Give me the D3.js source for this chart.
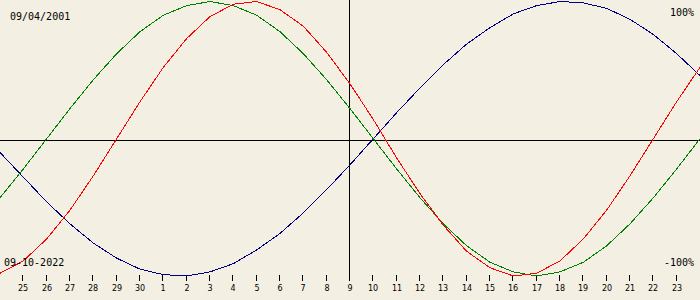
<!DOCTYPE html>
<html>
<head>
<meta charset="utf-8">
<script src="https://cdn.jsdelivr.net/npm/d3@7"></script>
<style>
html,body{margin:0;padding:0;background:#f3efe3;}
svg{display:block;}
</style>
</head>
<body>
<svg id="chart" width="700" height="300"></svg>
<script>
// Day labels, one per day from 24 Sep to 24 Oct 2022
const days = [24,25,26,27,28,29,30,1,2,3,4,5,6,7,8,9,10,11,12,13,14,15,16,17,18,19,20,21,22,23,24];
// Biorhythm values (fraction of 100%)
const physical = [-0.98,-0.89,-0.73,-0.52,-0.27,0,0.27,0.52,0.73,0.89,0.98,1.00,0.94,0.82,0.63,0.40,0.14,-0.14,-0.40,-0.63,-0.82,-0.94,-1.00,-0.98,-0.89,-0.73,-0.52,-0.27,0,0.27,0.52];
const emotional = [-0.43,-0.22,0,0.22,0.43,0.62,0.78,0.90,0.97,1.00,0.97,0.90,0.78,0.62,0.43,0.22,0,-0.22,-0.43,-0.62,-0.78,-0.90,-0.97,-1.00,-0.97,-0.90,-0.78,-0.62,-0.43,-0.22,0];
const intellectual = [-0.10,-0.28,-0.46,-0.62,-0.76,-0.87,-0.95,-0.99,-1.00,-0.97,-0.91,-0.81,-0.69,-0.54,-0.37,-0.19,0,0.19,0.37,0.54,0.69,0.81,0.91,0.97,1.00,0.99,0.95,0.87,0.76,0.62,0.46];
const birthLabel = "09/04/2001";
const dateLabel = "09-10-2022";
const topLabel = "100%";
const bottomLabel = "-100%";

const W = 700, H = 300;
const svg = d3.select("#chart");
const x = d3.scaleLinear().domain([0, days.length - 1]).range([0, W]);
const y = d3.scaleLinear().domain([-1, 1]).range([276, 1.5]);
const zeroY = 140.5, centerX = 349.5;

// axes lines
svg.append("line").attr("x1", 0).attr("x2", W).attr("y1", zeroY).attr("y2", zeroY)
  .attr("stroke", "#000").attr("stroke-width", 1).attr("shape-rendering", "crispEdges");
svg.append("line").attr("x1", centerX).attr("x2", centerX).attr("y1", 0).attr("y2", 281)
  .attr("stroke", "#000").attr("stroke-width", 1).attr("shape-rendering", "crispEdges");

// ticks and labels
const tickIdx = d3.range(1, days.length - 1);
const tg = svg.append("g");
tg.selectAll("line").data(tickIdx).join("line")
  .attr("x1", d => Math.round(x(d)) - 0.5).attr("x2", d => Math.round(x(d)) - 0.5)
  .attr("y1", 275).attr("y2", 281)
  .attr("stroke", "#000").attr("shape-rendering", "crispEdges");
tg.selectAll("text").data(tickIdx).join("text")
  .attr("x", d => Math.round(x(d)))
  .attr("y", 291)
  .attr("text-anchor", "middle")
  .attr("font-family", "DejaVu Sans")
  .attr("font-size", 8)
  .attr("fill", "#000")
  .text(d => days[d]);

// curves
const line = d3.line().x((d, i) => x(i)).y(d => y(d));
[[intellectual, "#000080"], [emotional, "#008000"], [physical, "#ff0000"]].forEach(([data, c]) => {
  svg.append("path").datum(data).attr("d", line)
    .attr("fill", "none").attr("stroke", c).attr("stroke-width", 1)
    .attr("shape-rendering", "crispEdges");
});

// labels
const mono = "DejaVu Sans Mono";
svg.append("text").attr("x", 10).attr("y", 20).attr("font-family", mono).attr("font-size", 10).attr("fill", "#000").text(birthLabel);
svg.append("text").attr("x", 4).attr("y", 266).attr("font-family", mono).attr("font-size", 10).attr("fill", "#000").text(dateLabel);
svg.append("text").attr("x", 694).attr("y", 16).attr("text-anchor", "end").attr("font-family", mono).attr("font-size", 10).attr("fill", "#000").text(topLabel);
svg.append("text").attr("x", 694).attr("y", 266).attr("text-anchor", "end").attr("font-family", mono).attr("font-size", 10).attr("fill", "#000").text(bottomLabel);
</script>
</body>
</html>
